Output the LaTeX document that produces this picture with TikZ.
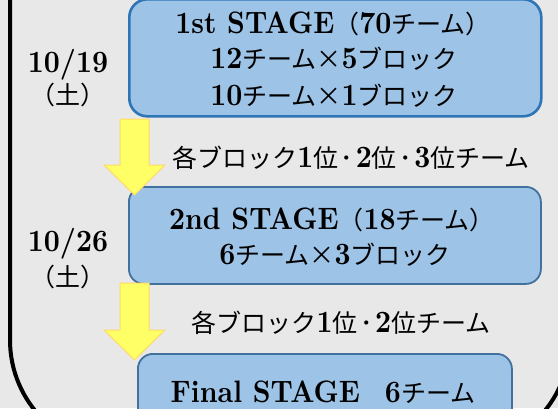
\documentclass[tikz,border=0pt]{standalone}
\usepackage{fontspec}
\newfontfamily\jpfont{Noto Sans CJK JP}
\newfontfamily\latb{lmroman10-bold}[Extension=.otf, FakeStretch=0.9]
\newcommand\J[1]{{\fontsize{25}{30}\selectfont\jpfont\mdseries #1}}
\newcommand\dt{\hspace{2.5pt}\J{･}\hspace{2.5pt}}
\definecolor{bgc}{HTML}{E8E8E8}
\definecolor{boxfill}{HTML}{9DC3E6}
\definecolor{bordA}{HTML}{2E75B6}
\definecolor{bordB}{HTML}{41719C}
\definecolor{arrfill}{HTML}{FFFF66}
\definecolor{arrdraw}{HTML}{FFD966}
\tikzset{
  stagebox/.style={rounded corners=18pt, fill=boxfill, anchor=north west, inner sep=0pt},
  txt/.style={anchor=base, inner sep=0pt, font=\fontsize{31}{36}\selectfont\latb},
  yarrow/.style={fill=arrfill, draw=arrdraw, line width=1pt, line join=miter},
}
\begin{document}
\begin{tikzpicture}[x=1pt,y=-1pt]
\useasboundingbox (0,0) rectangle (558,408);
\fill[bgc] (0,0) rectangle (558,408);
\begin{scope}
\clip (0,0) rectangle (558,408);
% outer frame
\draw[line width=4pt, rounded corners=112pt] (10,-150) rectangle (570,452);
% stage boxes
\node[stagebox, draw=bordA, line width=2.6pt, minimum width=412, minimum height=117] (b1) at (128,-2) {};
\node[stagebox, draw=bordB, line width=1.8pt, minimum width=412, minimum height=97, rounded corners=15pt] (b2) at (128,186) {};
\node[stagebox, draw=bordB, line width=1.8pt, minimum width=374, minimum height=90, rounded corners=15pt] (b3) at (137,353) {};
% arrows
\draw[yarrow] (120,119) -- (149,119) -- (149,165) -- (165,165) -- (134.5,195) -- (104,165) -- (120,165) -- cycle;
\draw[yarrow] (120,283) -- (149,283) -- (149,330) -- (165,330) -- (134.5,360) -- (104,330) -- (120,330) -- cycle;
% dates
\node[txt] (d1) at (68,72) {10/19};
\node[txt] (d1b) at (68,104) {\J{（土）}};
\node[txt] (d2) at (68,251) {10/26};
\node[txt] (d2b) at (68,286) {\J{（土）}};
% box 1 text
\node[txt] (t11) at (333,33) {1st STAGE\J{（}70\J{チーム）}};
\node[txt] (t12) at (334,68) {12\J{チーム×}5\J{ブロック}};
\node[txt] (t13) at (334,105) {10\J{チーム×}1\J{ブロック}};
% label 1
\node[txt] (l1) at (351,167) {\J{各ブロック}1\J{位}\dt 2\J{位}\dt 3\J{位チーム}};
% box 2 text
\node[txt] (t21) at (332,229) {2nd STAGE\J{（}18\J{チーム）}};
\node[txt] (t22) at (335,264) {6\J{チーム×}3\J{ブロック}};
% label 2
\node[txt] (l2) at (341,332) {\J{各ブロック}1\J{位}\dt 2\J{位チーム}};
% box 3 text
\node[txt] (t31) at (323,402) {Final STAGE\J{　}6\J{チーム}};
\end{scope}
\end{tikzpicture}
\end{document}
